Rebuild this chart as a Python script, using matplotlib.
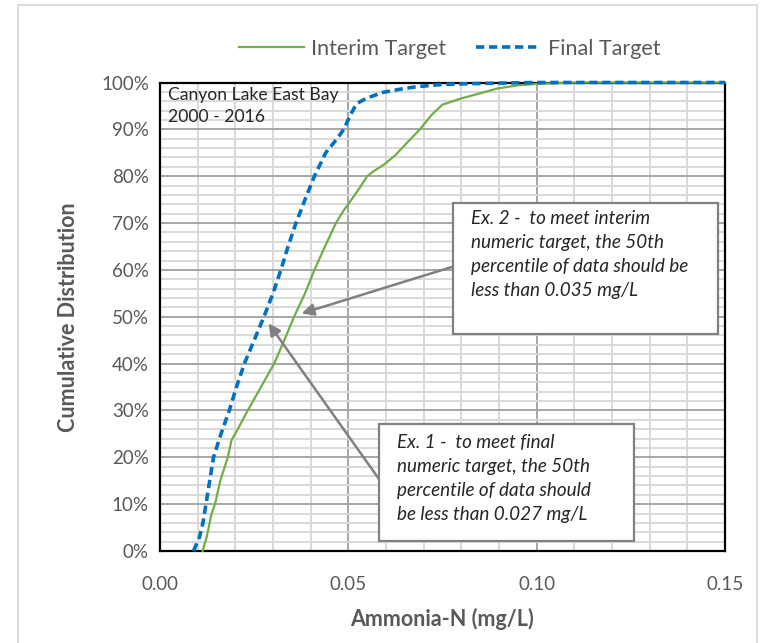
import numpy as np
import matplotlib
matplotlib.use("Agg")
import matplotlib.pyplot as plt
from matplotlib.ticker import MultipleLocator, FuncFormatter
from matplotlib.patches import Rectangle
from matplotlib.lines import Line2D

plt.rcParams["font.family"] = ["Lato", "DejaVu Sans"]

# cumulative distribution of ammonia-N, Canyon Lake East Bay 2000-2016
interim_x = [0.0113, 0.0124, 0.0137, 0.0146, 0.0160, 0.0180, 0.0190, 0.0203, 0.0233,
             0.0268, 0.0303, 0.0330, 0.0356, 0.0385, 0.0410, 0.0438, 0.0467, 0.0486,
             0.0504, 0.0530, 0.0550, 0.0566, 0.0595, 0.0625, 0.0660, 0.0690, 0.0720,
             0.0750, 0.0770, 0.0800, 0.0850, 0.0895, 0.0950, 0.1000, 0.1100, 0.1500]
interim_y = [0.00, 0.03, 0.08, 0.10, 0.15, 0.20, 0.237, 0.255, 0.30,
             0.35, 0.40, 0.45, 0.50, 0.55, 0.60, 0.65, 0.70, 0.725,
             0.745, 0.775, 0.80, 0.81, 0.825, 0.845, 0.875, 0.90, 0.93,
             0.953, 0.958, 0.966, 0.977, 0.987, 0.994, 0.997, 1.00, 1.00]

final_x = [0.0089, 0.0105, 0.0114, 0.0122, 0.0132, 0.0142, 0.0162, 0.0184, 0.0203,
           0.0224, 0.0250, 0.0276, 0.0300, 0.0321, 0.0340, 0.0361, 0.0385, 0.0410,
           0.0440, 0.0470, 0.0488, 0.0505, 0.0522, 0.0550, 0.0592, 0.0640, 0.0681,
           0.0751, 0.0850, 0.1000, 0.1500]
final_y = [0.00, 0.03, 0.06, 0.10, 0.15, 0.20, 0.25, 0.30, 0.35,
           0.40, 0.45, 0.50, 0.55, 0.60, 0.65, 0.70, 0.75, 0.80,
           0.85, 0.88, 0.90, 0.93, 0.955, 0.967, 0.979, 0.986, 0.991,
           0.996, 0.998, 1.00, 1.00]

# arrow tips (data coords) for the two call-outs
ex1_tip = (0.0288, 0.486)
ex2_tip = (0.0376, 0.507)

ex1_text = "Ex. 1 -  to meet final\nnumeric target, the 50th\npercentile of data should\nbe less than 0.027 mg/L"
ex2_text = "Ex. 2 -  to meet interim\nnumeric target, the 50th\npercentile of data should be\nless than 0.035 mg/L"

GREEN = "#70ad47"
BLUE = "#0070c0"
GREY_TXT = "#595959"

fig = plt.figure(figsize=(7.69, 6.43), dpi=100)
ax = fig.add_axes([160 / 769, 92 / 643, 565 / 769, 468.5 / 643])

# outer chart frame
fig.add_artist(Rectangle((18 / 769, -0.05), 739 / 769, 1.05 - 5 / 643,
                         transform=fig.transFigure, fill=False,
                         edgecolor="#d9d9d9", lw=1.3))

ax.set_xlim(0, 0.15)
ax.set_ylim(0, 1)
ax.xaxis.set_major_locator(MultipleLocator(0.05))
ax.xaxis.set_minor_locator(MultipleLocator(0.01))
ax.yaxis.set_major_locator(MultipleLocator(0.1))
ax.yaxis.set_minor_locator(MultipleLocator(0.02))
ax.xaxis.set_major_formatter(FuncFormatter(lambda v, p: f"{v:.2f}"))
ax.yaxis.set_major_formatter(FuncFormatter(lambda v, p: f"{v * 100:.0f}%"))

ax.grid(which="minor", color="#d9d9d9", lw=1.4)
ax.grid(which="major", color="#a6a6a6", lw=1.4)
ax.set_axisbelow(True)
ax.tick_params(which="both", length=0, labelsize=13.5, colors=GREY_TXT)
ax.tick_params(axis="y", pad=8)
ax.tick_params(axis="x", pad=18)
for s in ax.spines.values():
    s.set_color("black")
    s.set_linewidth(1.6)

ax.plot(interim_x, interim_y, color=GREEN, lw=1.6, zorder=4, clip_on=False,
        label="Interim Target")
ax.plot(final_x, final_y, color=BLUE, lw=2.6, dashes=(2.3, 1.3), zorder=5,
        clip_on=False, label="Final Target")

ax.set_xlabel("Ammonia-N (mg/L)", fontsize=15.5, fontweight="bold",
              color=GREY_TXT, labelpad=11)
ax.set_ylabel("Cumulative Distribution", fontsize=15.5, fontweight="bold",
              color=GREY_TXT, labelpad=16)

ax.text(0.014, 0.99, "Canyon Lake East Bay\n2000 - 2016", transform=ax.transAxes,
        ha="left", va="top", fontsize=12.6, color="#262626", linespacing=1.45,
        zorder=6)

# call-out boxes with arrows
boxes = [
    ((0.3876, 0.0213), 0.4514, 0.2498, (0.4195, 0.250), ex1_text, ex1_tip, (0.3876, 0.1535)),
    ((0.5186, 0.4632), 0.4690, 0.2796, (0.5504, 0.727), ex2_text, ex2_tip, (0.5186, 0.607)),
]
for (x0, y0), w, h, tpos, txt, tip, start in boxes:
    ax.annotate("", xy=tip, xycoords="data", xytext=start, textcoords="axes fraction",
                arrowprops=dict(arrowstyle="-|>", color="#808080", lw=1.8,
                                mutation_scale=18, shrinkA=0, shrinkB=0),
                zorder=6)
    ax.add_patch(Rectangle((x0, y0), w, h, transform=ax.transAxes, facecolor="white",
                           edgecolor="#808080", lw=1.6, zorder=7, clip_on=False))
    ax.text(tpos[0], tpos[1], txt, transform=ax.transAxes, ha="left", va="top",
            fontsize=13.6, style="italic", color="#262626", linespacing=1.5, zorder=8)

fig.legend(handles=[Line2D([], [], color=GREEN, lw=1.6),
                    Line2D([], [], color=BLUE, lw=2.6, dashes=(2.3, 1.3))],
           labels=["Interim Target", "Final Target"],
           loc="center", bbox_to_anchor=(450 / 769, 1 - 49 / 643), ncol=2,
           frameon=False, fontsize=15.5, labelcolor=GREY_TXT, handlelength=3.0,
           handletextpad=0.35, columnspacing=1.4)

fig.savefig("out.png", dpi=100)
